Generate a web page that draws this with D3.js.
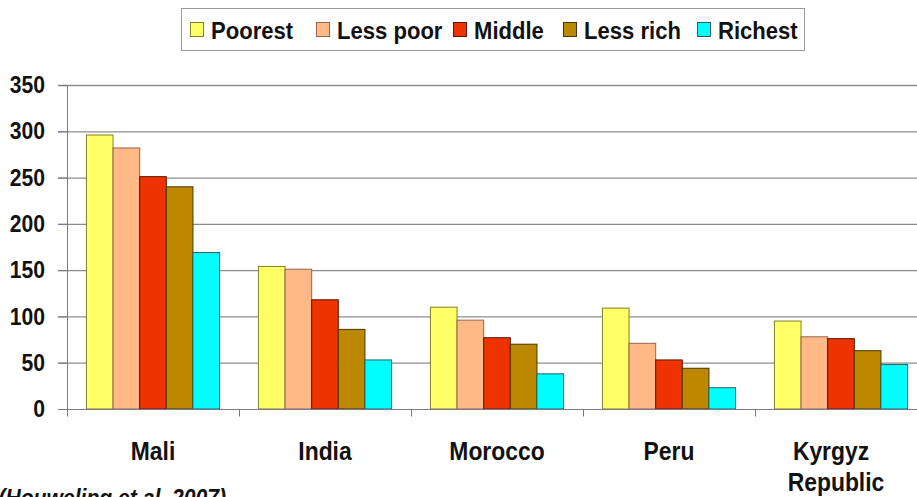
<!DOCTYPE html>
<html lang="en">
	<head>
		<meta charset="utf-8">
		<title>Bars by wealth quintile</title>
		<script type="text/javascript" src="https://cdn.jsdelivr.net/npm/d3@7"></script>
		<style type="text/css">
			body { margin: 0; background: #fff; }
			svg { display: block; font-family: "Liberation Sans", Arial, sans-serif; }
			.Axis text { font-size: 24px; font-weight: bold; fill: #111; }
			.Axis path, .Axis line { stroke: #777790; }
		</style>
	</head>
	<body>
		<script type="text/javascript">

			//Width and height
			var w = 917;
			var h = 497;

			var countries = ["Mali", "India", "Morocco", "Peru", "Kyrgyz Republic"];
			var series = ["Poorest", "Less poor", "Middle", "Less rich", "Richest"];
			var colors = ["#ffff66", "#ffb987", "#ee3300", "#bb8800", "#00ffff"];
			var strokes = ["#80802a", "#906650", "#5a1800", "#4a3400", "#2a6060"];

			var poorest  = [296, 154, 110, 109, 95];
			var lessPoor = [282, 151, 96, 71, 78];
			var middle   = [251, 118, 77, 53, 76];
			var lessRich = [240, 86, 70, 44, 63];
			var richest  = [169, 53, 38, 23, 48];
			var values = [poorest, lessPoor, middle, lessRich, richest];

			var yTicks = [0, 50, 100, 150, 200, 250, 300, 350];

			var sx = 0.88;	//text is drawn a bit narrow, like the slide

			//Scales
			var xScale = d3.scaleBand()
						.domain(countries)
						.range([67, 927])
						.paddingInner(0)
						.paddingOuter(0);

			var xInner = d3.scaleBand()
						.domain(series)
						.range([0, xScale.bandwidth()])
						.paddingOuter(0.73);

			var yScale = d3.scaleLinear()
						.domain([0, 350])
						.range([409, 85]);

			var svg = d3.select("body")
						.append("svg")
						.attr("width", w)
						.attr("height", h);

			//Gridlines
			svg.append("g")
			   .selectAll("line")
			   .data(yTicks.slice(1))
			   .enter()
			   .append("line")
			   .attr("x1", 58)
			   .attr("x2", w)
			   .attr("y1", function(d) { return yScale(d) + 0.5; })
			   .attr("y2", function(d) { return yScale(d) + 0.5; })
			   .attr("stroke", "#8c8c8c")
			   .attr("stroke-width", 1.3);

			//Bars
			var rows = [];
			countries.forEach(function(c, i) {
				series.forEach(function(s, j) {
					rows.push({ country: c, s: s, j: j, v: values[j][i] });
				});
			});

			svg.append("g")
			   .selectAll("rect")
			   .data(rows)
			   .enter()
			   .append("rect")
			   .attr("x", function(d) { return xScale(d.country) + xInner(d.s); })
			   .attr("width", xInner.bandwidth())
			   .attr("y", function(d) { return yScale(d.v); })
			   .attr("height", function(d) { return yScale(0) - yScale(d.v); })
			   .attr("fill", function(d) { return colors[d.j]; })
			   .attr("stroke", function(d) { return strokes[d.j]; })
			   .attr("stroke-width", 1);

			//Axes
			var yAxis = d3.axisLeft(yScale)
						.tickValues(yTicks)
						.tickSize(9)
						.tickPadding(16)
						.tickFormat(d3.format("d"));

			var gy = svg.append("g")
			   .classed("Axis", true)
			   .attr("transform", "translate(67,0)")
			   .call(yAxis);
			gy.select(".domain").attr("d", "M0.5,85V409");
			gy.selectAll(".tick text").attr("transform", "scale(" + sx + ",1)");

			var xAxis = d3.axisBottom(xScale).tickSize(0).tickFormat("");
			var gx = svg.append("g")
			   .classed("Axis", true)
			   .attr("transform", "translate(0,409.5)")
			   .call(xAxis);
			gx.select(".domain").attr("d", "M67,0H" + w);

			//Category separators
			gx.selectAll(".sep")
			  .data(countries)
			  .enter()
			  .append("line")
			  .attr("class", "sep")
			  .attr("x1", function(d) { return xScale(d) + 0.5; })
			  .attr("x2", function(d) { return xScale(d) + 0.5; })
			  .attr("y1", 0)
			  .attr("y2", 7);

			//Category labels
			gx.selectAll(".cat")
			  .data(countries)
			  .enter()
			  .append("text")
			  .attr("class", "cat")
			  .attr("text-anchor", "middle")
			  .attr("transform", function(d) {
			  	return "translate(" + (xScale(d) + xScale.bandwidth() / 2) + ",50) scale(" + sx + ",1)";
			  })
			  .style("font-size", "26px")
			  .each(function(d) {
			  	var parts = d.split(" ");
			  	var t = d3.select(this);
			  	parts.forEach(function(p, k) {
			  		t.append("tspan")
			  		 .attr("x", -(k ? 5 : 10) * (parts.length - 1) / sx)
			  		 .attr("dy", k ? 32 : 0)
			  		 .text(p);
			  	});
			  });

			//Legend
			var legend = svg.append("g");
			legend.append("rect")
			  .attr("x", 181.5)
			  .attr("y", 8.5)
			  .attr("width", 623)
			  .attr("height", 42)
			  .attr("fill", "#fff")
			  .attr("stroke", "#999");

			var legendX = [190, 316, 453, 563, 697];
			var items = legend.selectAll(".item")
			  .data(series)
			  .enter()
			  .append("g")
			  .attr("transform", function(d, i) { return "translate(" + legendX[i] + ",0)"; });

			items.append("rect")
			  .attr("x", 0.5)
			  .attr("y", 22.5)
			  .attr("width", 13)
			  .attr("height", 14)
			  .attr("fill", function(d, i) { return colors[i]; })
			  .attr("stroke", function(d, i) { return strokes[i]; });

			items.append("text")
			  .attr("transform", "translate(21,39) scale(0.92,1)")
			  .style("font-size", "24px")
			  .style("font-weight", "bold")
			  .attr("fill", "#111")
			  .text(function(d) { return d; });

			//Source note, cut at the page edge as in the slide
			svg.append("text")
			  .attr("transform", "translate(226,506) scale(" + sx + ",1)")
			  .attr("text-anchor", "end")
			  .style("font-size", "24px")
			  .style("font-weight", "bold")
			  .style("font-style", "italic")
			  .attr("fill", "#111")
			  .text("(Houweling et al. 2007)");

		</script>
	</body>
</html>
